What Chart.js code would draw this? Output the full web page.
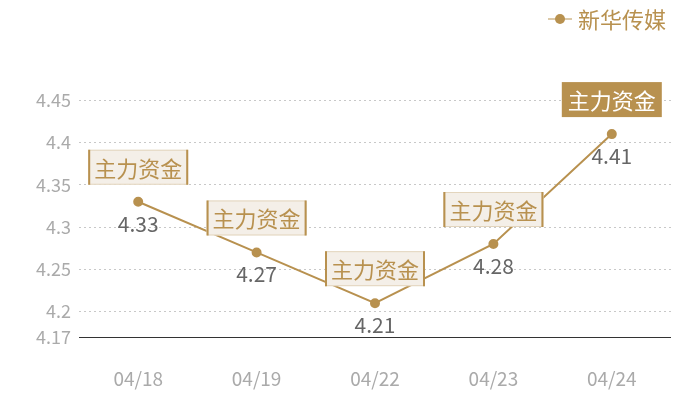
<!DOCTYPE html>
<html>
<head>
<meta charset="utf-8">
<script src="https://cdn.jsdelivr.net/npm/chart.js@4/dist/chart.umd.min.js"></script>
<style>
  html, body { margin: 0; padding: 0; background: #fff; }
  #wrap { width: 700px; height: 400px; }
</style>
</head>
<body>
<div id="wrap"><canvas id="myChart"></canvas></div>
<script>
const dates = ["04/18", "04/19", "04/22", "04/23", "04/24"];
const prices = [4.33, 4.27, 4.21, 4.28, 4.41];
const yTicks = [4.17, 4.2, 4.25, 4.3, 4.35, 4.4, 4.45];
const seriesName = "新华传媒";
const boxText = "主力资金";

const gold = "#b8914f";
const FONT = "'Noto Sans CJK SC', 'Noto Sans', sans-serif";

// draws the value under each point, the "主力资金" tag above it and the legend
const tagPlugin = {
  id: "tags",
  afterDatasetsDraw(chart) {
    const ctx = chart.ctx;
    const meta = chart.getDatasetMeta(0);
    ctx.save();
    meta.data.forEach((pt, i) => {
      const x = pt.x, y = pt.y;
      // value text
      ctx.font = "21px " + FONT;
      ctx.fillStyle = "#666";
      ctx.textAlign = "center";
      ctx.textBaseline = "middle";
      ctx.fillText(String(prices[i]), x, y + 22);

      // tag box
      const w = 100, h = 35;
      const bx = x - w / 2, by = y - 17 - h;
      const last = i === prices.length - 1;
      ctx.fillStyle = last ? gold : "#f4efe8";
      ctx.fillRect(bx, by, w, h);
      if (!last) {
        ctx.strokeStyle = "#e3d5bd";
        ctx.lineWidth = 1;
        ctx.strokeRect(bx + 0.5, by + 0.5, w - 1, h - 1);
        ctx.strokeStyle = gold;
        ctx.lineWidth = 2;
        ctx.beginPath();
        ctx.moveTo(bx + 1, by); ctx.lineTo(bx + 1, by + h);
        ctx.moveTo(bx + w - 1, by); ctx.lineTo(bx + w - 1, by + h);
        ctx.stroke();
      }
      ctx.font = "22px " + FONT;
      ctx.fillStyle = last ? "#fff" : gold;
      ctx.fillText(boxText, x, by + h / 2 + 1);
    });

    // legend
    const ly = 19, lx = 548;
    ctx.strokeStyle = "#dcc9a8";
    ctx.lineWidth = 2;
    ctx.beginPath();
    ctx.moveTo(lx, ly); ctx.lineTo(lx + 24, ly);
    ctx.stroke();
    ctx.fillStyle = gold;
    ctx.beginPath();
    ctx.arc(lx + 12, ly, 5, 0, Math.PI * 2);
    ctx.fill();
    ctx.font = "22px " + FONT;
    ctx.textAlign = "left";
    ctx.fillText(seriesName, lx + 30, ly + 1);
    ctx.restore();
  }
};

const ctx = document.getElementById("myChart");
new Chart(ctx, {
  type: "line",
  data: {
    labels: dates,
    datasets: [
      {
        label: seriesName,
        data: prices,
        borderColor: gold,
        backgroundColor: gold,
        borderWidth: 2,
        pointRadius: 4,
        pointHoverRadius: 4,
        tension: 0,
      },
    ],
  },
  options: {
    responsive: true,
    maintainAspectRatio: false,
    animation: false,
    layout: { padding: { top: 58, right: 29, left: 0, bottom: 0 } },
    scales: {
      x: {
        offset: true,
        grid: { display: false },
        border: { display: false },
        ticks: { color: "#aaa", font: { size: 19, family: FONT }, padding: 22 },
        afterFit(scale) { scale.height = 63; },
      },
      y: {
        min: 4.17,
        max: 4.5,
        afterBuildTicks(scale) { scale.ticks = yTicks.map(v => ({ value: v })); },
        afterFit(scale) { scale.width = 79; },
        grid: {
          drawTicks: false,
          color: ctx2 => ctx2.tick && ctx2.tick.value === 4.17 ? "rgba(0,0,0,0)" : "#c8c8c8",
        },
        border: { display: false, dash: [2, 3] },
        ticks: {
          color: "#aaa",
          font: { size: 18, family: FONT },
          padding: 8,
          callback: v => String(v),
        },
      },
    },
    plugins: {
      legend: { display: false },
      tooltip: { enabled: false },
    },
  },
  plugins: [
    tagPlugin,
    {
      id: "baseLine",
      beforeDatasetsDraw(chart) {
        const a = chart.chartArea, c = chart.ctx;
        c.save();
        c.strokeStyle = "#333";
        c.lineWidth = 1;
        c.beginPath();
        c.moveTo(a.left, Math.round(a.bottom) + 0.5);
        c.lineTo(a.right, Math.round(a.bottom) + 0.5);
        c.stroke();
        c.restore();
      },
    },
  ],
});
</script>
</body>
</html>
